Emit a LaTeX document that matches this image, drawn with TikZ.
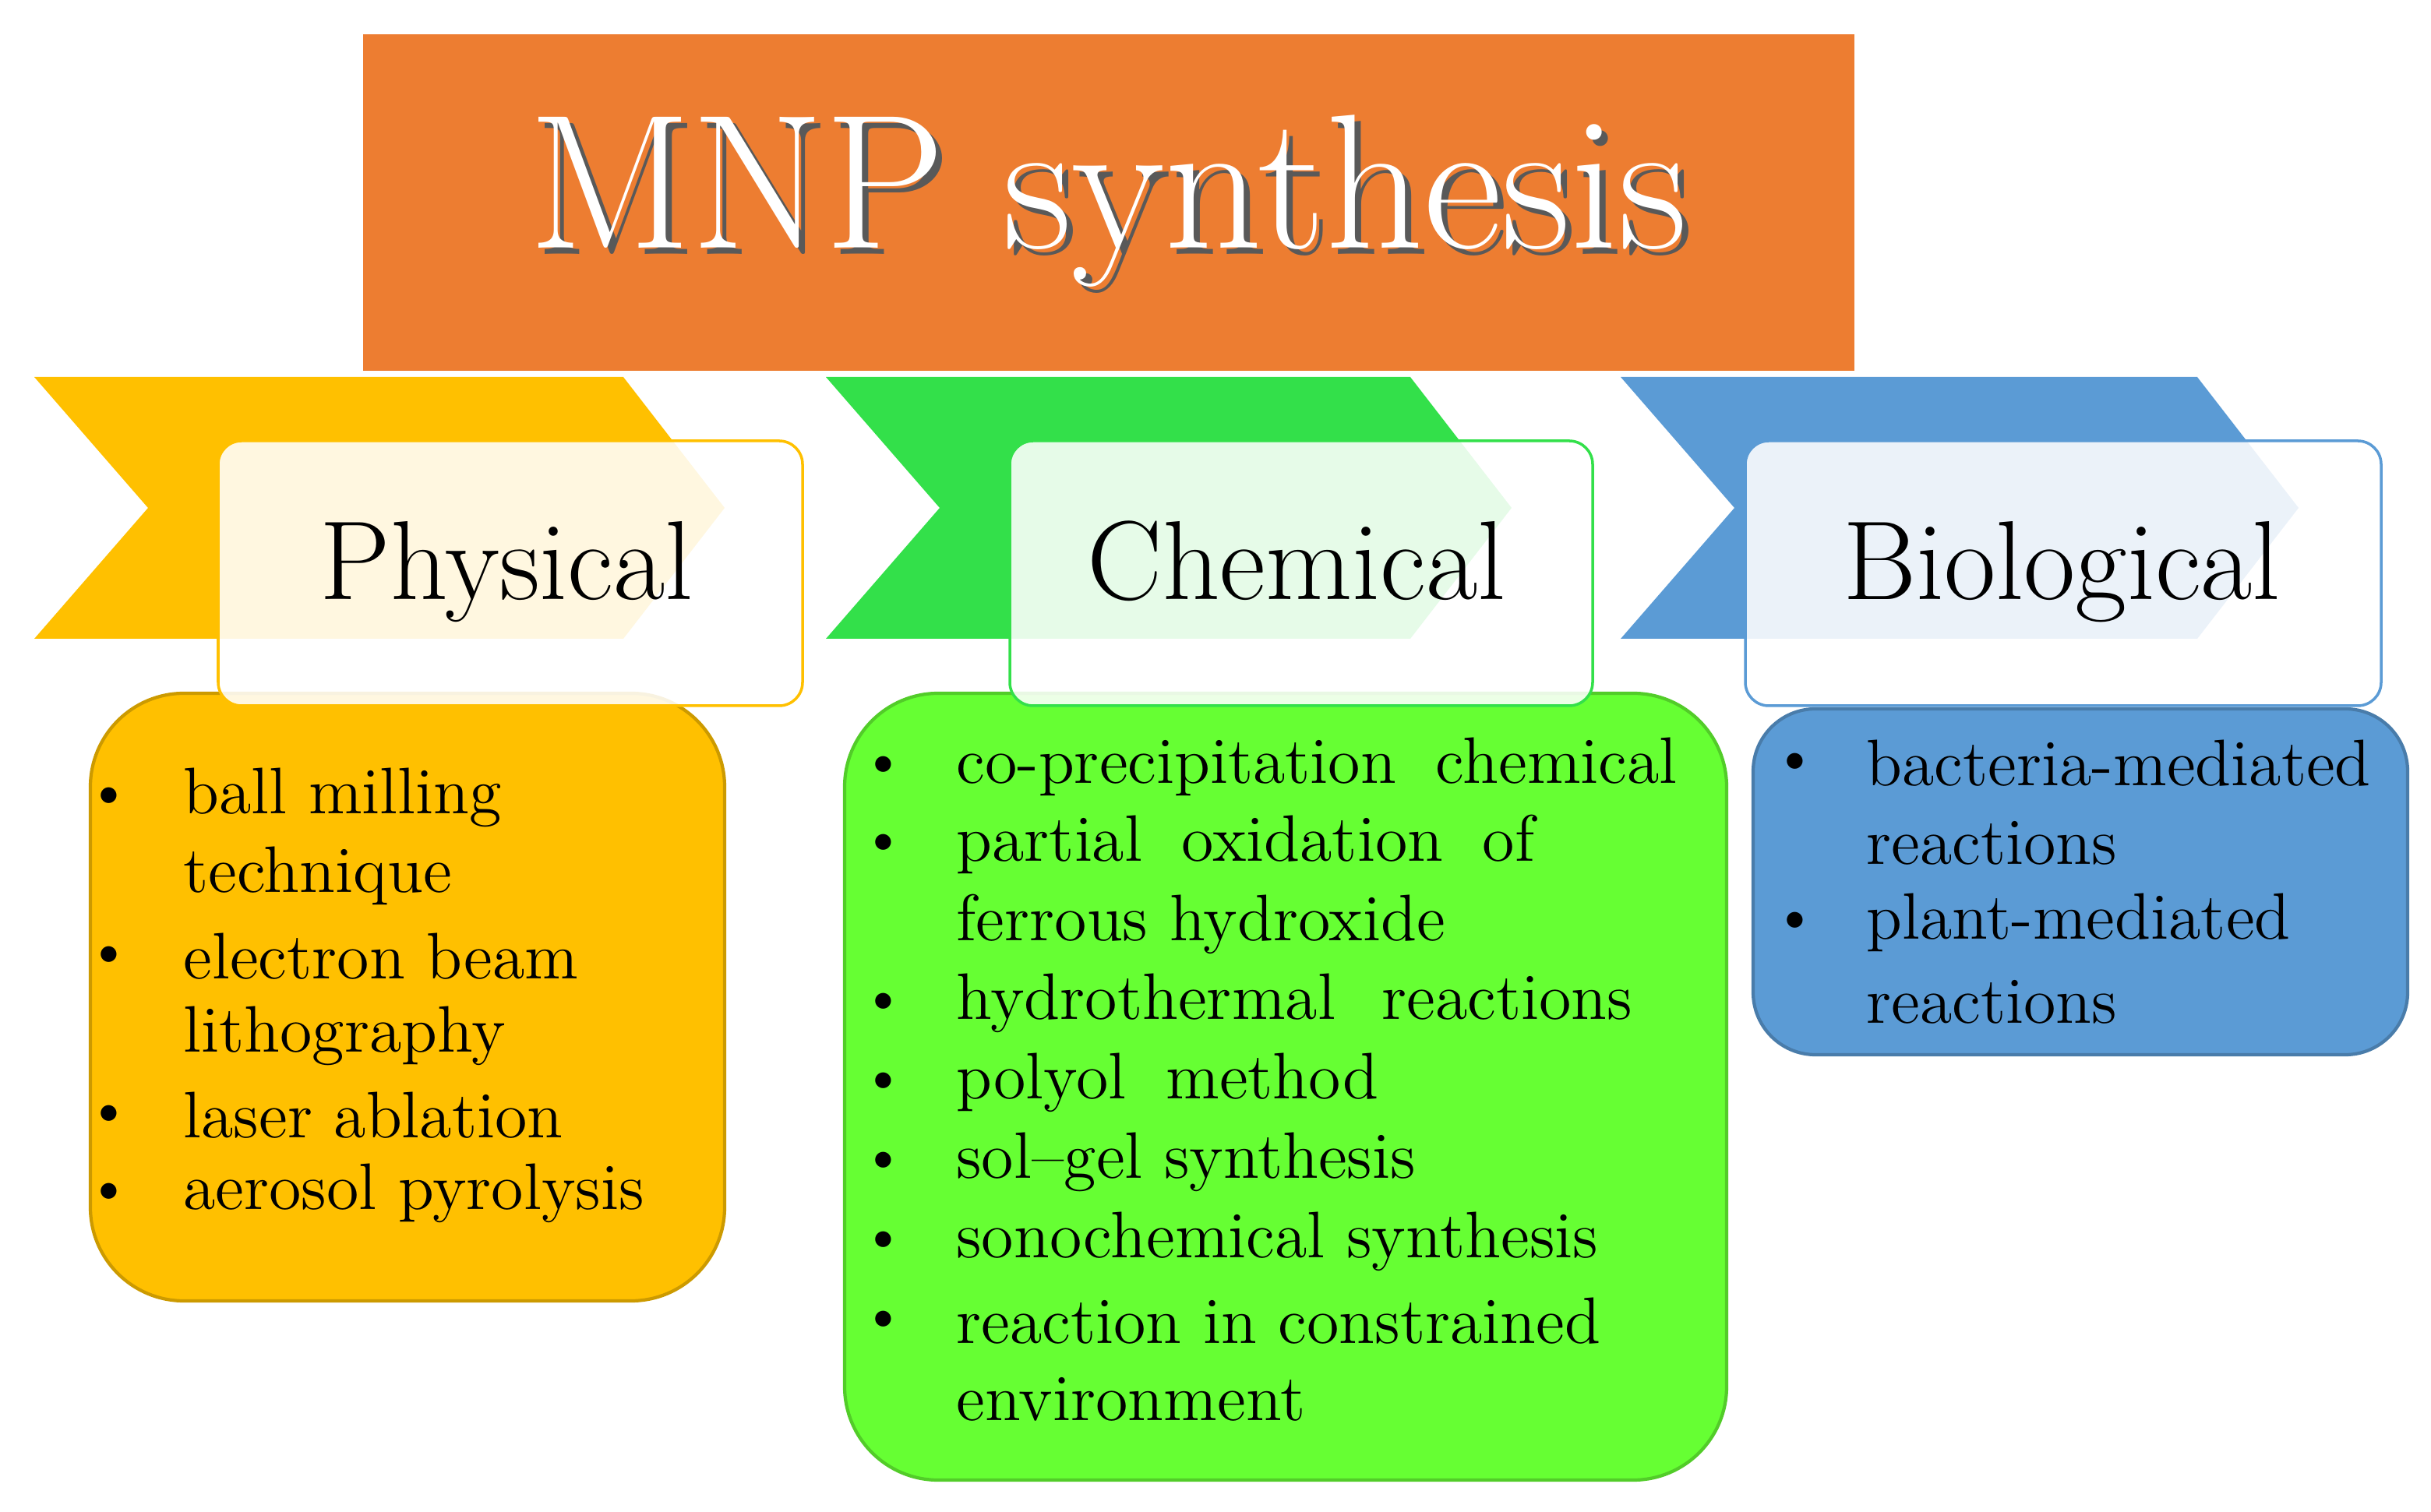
\documentclass[tikz,border=0pt]{standalone}
\begin{document}
\begin{tikzpicture}[x=0.01cm,y=-0.01cm,
 lab/.style={fill=white,fill opacity=0.88,text opacity=1,rounded corners=0.15cm,line width=0.5pt},
 box/.style={rounded corners=0.6cm,line width=0.6pt},
 it/.style={anchor=west,font=\fontsize{12}{14}\selectfont,inner sep=0},
 bul/.style={anchor=center,font=\fontsize{10}{12}\selectfont,inner sep=0},
 big/.style={anchor=base,font=\fontsize{20.5}{24}\selectfont}]
\useasboundingbox (0,0) rectangle (1560,970.5);
\definecolor{org}{HTML}{ED7D31}\definecolor{yel}{HTML}{FFC000}
\definecolor{grn}{HTML}{33E04A}\definecolor{lgr}{HTML}{66FF33}\definecolor{blu}{HTML}{5B9BD5}
\fill[org] (233,22) rectangle (1190,238);
\node[text=gray!70!black,font=\fontsize{35}{40}\selectfont] at (715,133) {MNP synthesis};
\node (title) [text=white,font=\fontsize{35}{40}\selectfont] at (711,129) {MNP synthesis};
% chevrons
\fill[yel] (22,242) -- (400,242) -- (465,326) -- (400,410) -- (22,410) -- (95,326) -- cycle;
\fill[grn] (530,242) -- (905,242) -- (970,326) -- (905,410) -- (530,410) -- (603,326) -- cycle;
\fill[blu] (1040,242) -- (1410,242) -- (1475,326) -- (1410,410) -- (1040,410) -- (1113,326) -- cycle;
% content boxes
\draw[box,fill=yel,draw=yel!80!black] (58,445) rectangle (465,835);
\draw[box,fill=lgr,draw=lgr!80!black] (542,445) rectangle (1108,950);
\draw[box,rounded corners=0.4cm,fill=blu,draw=blu!80!black] (1125,455) rectangle (1545,677);
% label boxes
\draw[lab,draw=yel] (140,283) rectangle (515,453);
\node (phy) [big] at (325,385) {Physical};
\draw[lab,draw=grn] (648,283) rectangle (1022,453);
\node (che) [big] at (832,385) {Chemical};
\draw[lab,draw=blu] (1120,283) rectangle (1528,453);
\node (bio) [big] at (1323,385) {Biological};
% physical
\foreach \y in {512,614,716,766} \node[bul] at (70,\y) {\textbullet};
\node[it] at (117,512) {ball milling};
\node[it] at (117,562) {technique};
\node[it] at (117,614) {electron beam};
\node[it] at (117,665) {lithography};
\node[it] at (117,716) {laser ablation};
\node[it] at (117,766) {aerosol pyrolysis};
% chemical
\foreach \y in {492,542,644,695,746,797,848} \node[bul] at (567,\y) {\textbullet};
\node[it] at (613,492) {co-precipitation\hspace{0.6em}chemical};
\node[it] at (613,542) {partial\hspace{0.6em}oxidation\hspace{0.6em}of};
\node[it] at (613,593) {ferrous hydroxide};
\node[it] at (613,644) {hydrothermal\hspace{0.7em}reactions};
\node[it] at (613,695) {polyol\hspace{0.6em}method};
\node[it] at (613,746) {sol--gel synthesis};
\node[it] at (613,797) {sonochemical synthesis};
\node[it] at (613,848) {reaction in constrained};
\node[it] at (613,898) {environment};
% biological
\foreach \y in {490,592} \node[bul] at (1152,\y) {\textbullet};
\node[it] at (1197,490) {bacteria-mediated};
\node[it] at (1197,541) {reactions};
\node[it] at (1197,592) {plant-mediated};
\node[it] at (1197,643) {reactions};
\end{tikzpicture}
\end{document}
